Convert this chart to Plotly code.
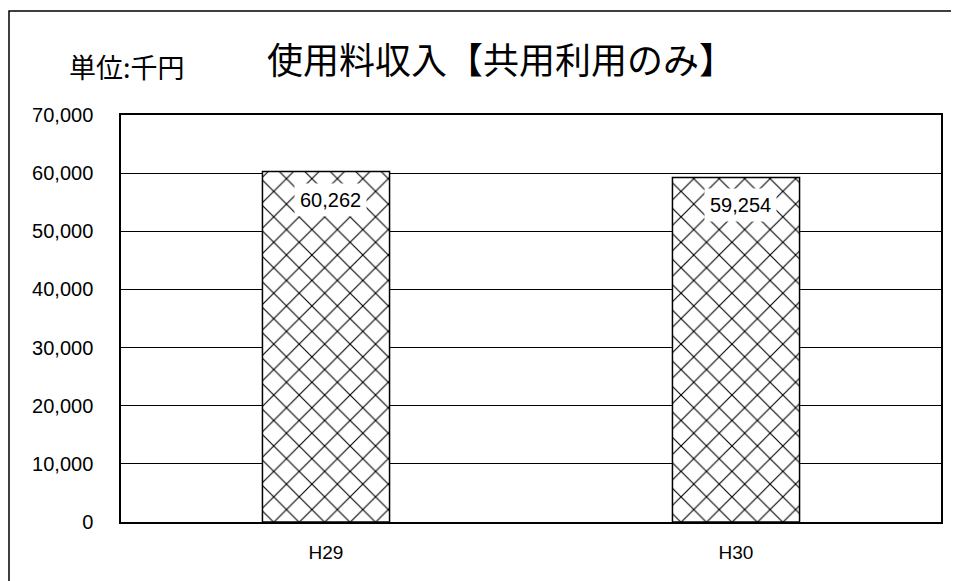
import plotly.graph_objects as go

categories = ["H29", "H30"]
values = [60262, 59254]
label_texts = ["60,262", "59,254"]
tick_vals = [0, 10000, 20000, 30000, 40000, 50000, 60000, 70000]
tick_text = ["0", "10,000", "20,000", "30,000", "40,000", "50,000", "60,000", "70,000"]

# page body has an 8px margin; plot area target (in window px): x 121..941, y 115..522
OFF = 8
W, H = 959 - OFF, 581 - OFF
L, T = 121 - OFF, 115 - OFF
R = W - (941 - OFF)
B = H - (522 - OFF)
pw = W - L - R
ph = H - T - B

def px(x):
    return (x - OFF - L) / pw

def py(y):
    return 1 - (y - OFF - T) / ph

num_font = "Liberation Sans, Arial, sans-serif"
jp_font = "Noto Sans CJK JP, sans-serif"

fig = go.Figure()
fig.add_trace(go.Bar(
    x=categories, y=values, width=0.31,
    marker=dict(color="white", line=dict(color="black", width=1.5),
                pattern=dict(shape="x", fgcolor="black", bgcolor="white", fgopacity=1,
                             size=18, solidity=0.12)),
    hoverinfo="skip",
))

for c, v, t in zip(categories, values, label_texts):
    fig.add_annotation(x=c, y=v, text=t, showarrow=False, yshift=-28, xshift=4,
                       font=dict(family=num_font, size=20, color="black"),
                       bgcolor="white", borderpad=5)

fig.add_annotation(xref="paper", yref="paper", x=px(127), y=py(67),
                   xanchor="center", yanchor="middle", text="単位:千円", showarrow=False,
                   font=dict(family=jp_font, size=27, color="black"))
fig.add_annotation(xref="paper", yref="paper", x=px(265), y=py(58),
                   xanchor="left", yanchor="middle", text="使用料収入【共用利用のみ】", showarrow=False,
                   font=dict(family=jp_font, size=36, color="black"))

# outer chart border
fig.add_shape(type="rect", xref="paper", yref="paper",
              x0=px(9), x1=px(990),
              y0=py(620), y1=py(11),
              line=dict(color="black", width=1.5), layer="below")

fig.update_layout(
    width=W, height=H,
    margin=dict(l=L, r=R, t=T, b=B),
    paper_bgcolor="white", plot_bgcolor="white",
    showlegend=False,
    xaxis=dict(showline=True, linecolor="black", linewidth=1.5, mirror=True,
               tickfont=dict(family=num_font, size=19, color="black"),
               ticks="", ticklabelstandoff=12),
    yaxis=dict(range=[0, 70000], tickvals=tick_vals, ticktext=tick_text,
               showline=True, linecolor="black", linewidth=1.5, mirror=True,
               showgrid=True, gridcolor="black", gridwidth=1,
               tickfont=dict(family=num_font, size=20, color="black"),
               ticks="", ticklabelstandoff=22, zeroline=False),
)

fig.write_html("out.html")
